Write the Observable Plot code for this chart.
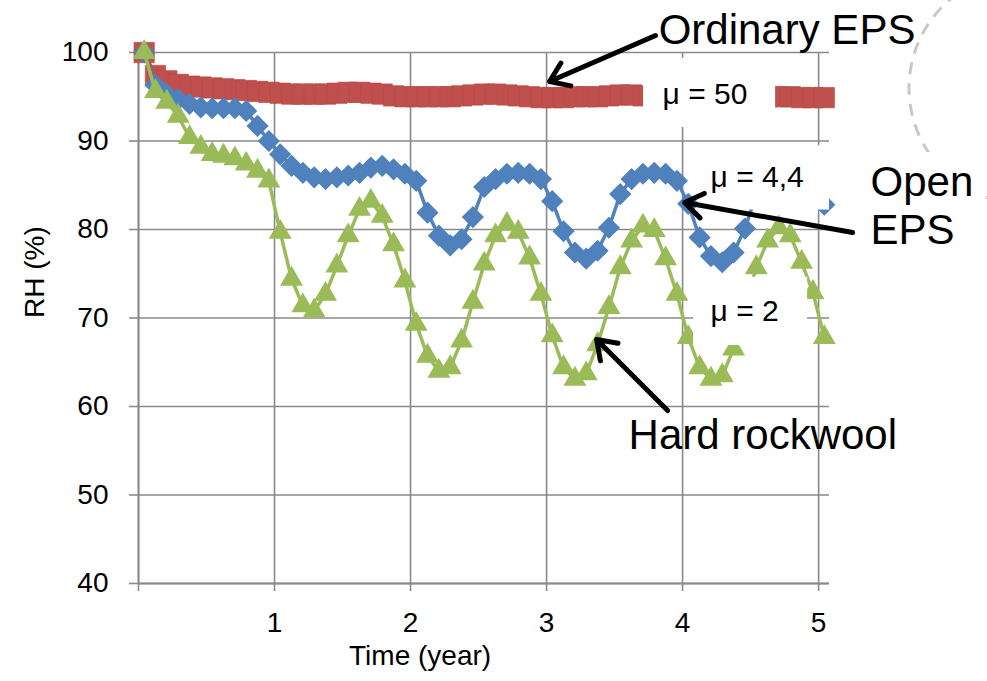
<!DOCTYPE html>
<html><head><meta charset="utf-8">
<script src="https://cdn.jsdelivr.net/npm/d3@7"></script>
<script src="https://cdn.jsdelivr.net/npm/@observablehq/plot@0.6"></script>
<style>
html,body{margin:0;padding:0;background:#fff}
#wrap{position:relative;width:987px;height:681px;overflow:hidden}
#wrap svg{position:absolute;left:0;top:0}
</style>
</head><body><div id="wrap">
<svg width="987" height="681"><circle cx="1025" cy="88" r="116" fill="none" stroke="#c8c8c8" stroke-width="3" stroke-dasharray="12 9"/></svg>
</div>
<script>
// month index (mid-month sampling, 0..60)
const monthIndex = d3.range(61);
// RH (%) series
const ordinaryEPS = [100, 97.4, 96.8, 96.4, 96.2, 96.1, 96.0, 95.9, 95.8, 95.7, 95.6, 95.5, 95.4, 95.3, 95.3, 95.3, 95.3, 95.4, 95.5, 95.5, 95.4, 95.3, 95.1, 95.0, 95.0, 95.0, 95.0, 95.0, 95.1, 95.2, 95.3, 95.3, 95.2, 95.1, 95.0, 94.9, 94.9, 94.9, 95.0, 95.0, 95.0, 95.1, 95.2, 95.2, 95.1, 95.0, 94.9, 94.9, 94.9, 94.9, 95.0, 95.0, 95.1, 95.1, 95.0, 95.0, 95.0, 95.0, 94.9, 94.9, 94.9];
const openEPS = [100, 96.3, 95.3, 94.7, 94.2, 93.8, 93.7, 93.7, 93.7, 93.4, 91.7, 90.0, 88.5, 87.2, 86.4, 85.9, 85.7, 85.9, 86.1, 86.4, 87.0, 87.2, 86.8, 86.3, 85.5, 81.9, 79.3, 78.2, 78.9, 81.4, 84.8, 85.7, 86.3, 86.4, 86.3, 85.7, 83.2, 79.8, 77.4, 76.7, 77.6, 80.2, 84.0, 85.7, 86.3, 86.4, 86.3, 85.5, 82.9, 79.1, 77.0, 76.3, 77.4, 80.1, 84.0, 85.7, 86.2, 86.3, 86.2, 85.4, 82.8];
const hardRockwool = [100, 95.6, 94.4, 92.8, 90.4, 89.3, 88.5, 88.3, 88.0, 87.4, 86.6, 85.5, 79.7, 74.4, 71.4, 70.8, 72.7, 75.9, 79.3, 82.3, 83.2, 81.5, 78.3, 74.2, 69.3, 65.7, 64.0, 64.4, 67.4, 71.8, 76.1, 79.3, 80.6, 79.7, 76.8, 72.7, 68.0, 64.4, 63.1, 63.7, 67.0, 71.2, 75.7, 78.7, 80.4, 79.9, 76.7, 72.7, 67.8, 64.4, 63.1, 63.5, 66.5, 71.3, 75.7, 78.7, 80.2, 79.3, 76.3, 72.9, 67.8];
const yTicks = [40, 50, 60, 70, 80, 90, 100];
const xTicks = [0, 1, 2, 3, 4, 5];

const toRows = (vals) => vals.map((v, i) => ({t: (monthIndex[i] + 0.5) / 12, v}));
const red = toRows(ordinaryEPS), blue = toRows(openEPS), green = toRows(hardRockwool);

// annotations (data units)
const boxes = [
  {x1: 3.713, x2: 4.684, y1: 91.53, y2: 99.32},
  {x1: 4.132, x2: 5.08, y1: 82.2, y2: 89.46},
  {x1: 4.081, x2: 4.919, y1: 66.89, y2: 74.6},
  {x1: 5.346, x2: 6.18, y1: 77.6, y2: 88.7}
];
const bigLabels = [
  {x: 3.824, y: 102.49, text: "Ordinary EPS"},
  {x: 5.382, y: 85.36, text: "Open"},
  {x: 5.382, y: 79.93, text: "EPS"},
  {x: 3.603, y: 56.77, text: "Hard rockwool"}
];
const muLabels = [
  {x: 3.853, y: 95.32, text: "μ = 50"},
  {x: 4.206, y: 85.94, text: "μ = 4,4"},
  {x: 4.206, y: 70.80, text: "μ = 2"}
];
const arrows = [
  {x1: 3.801, y1: 101.92, x2: 3.022, y2: 96.72},
  {x1: 5.25, y1: 79.66, x2: 4.015, y2: 83.05},
  {x1: 3.890, y1: 59.55, x2: 3.368, y2: 67.57}
];

const RED = "#C0504D", BLUE = "#4F81BD", GREEN = "#9BBB59", GRID = "#8a8a8a";

const chart = Plot.plot({
  width: 987, height: 681,
  marginLeft: 138, marginRight: 158, marginTop: 52, marginBottom: 98,
  x: {domain: [0, 5.08], axis: null},
  y: {domain: [40, 100], axis: null},
  style: {fontFamily: "'Liberation Sans', Arial, sans-serif", fontSize: "28px", color: "black", background: "transparent", overflow: "visible"},
  marks: [
    Plot.gridY(yTicks, {stroke: GRID, strokeOpacity: 1, strokeWidth: 1.6}),
    Plot.gridX(xTicks.filter(d => d > 0), {stroke: GRID, strokeOpacity: 1, strokeWidth: 1.6}),
    Plot.axisY(yTicks, {anchor: "left", tickSize: 9, tickPadding: 21, stroke: GRID, strokeWidth: 1.6, fill: "black", label: null, fontSize: 28}),
    Plot.axisX(xTicks, {anchor: "bottom", tickSize: 8, tickPadding: 21, stroke: GRID, strokeWidth: 1.6, fill: "black", label: null, fontSize: 28, tickFormat: d => d === 0 ? "" : String(d)}),
    Plot.ruleX([0], {stroke: GRID, strokeWidth: 2.2}),
    Plot.ruleY([40], {stroke: GRID, strokeWidth: 2.2}),
    Plot.line(red, {x: "t", y: "v", stroke: RED, strokeWidth: 3.5}),
    Plot.dot(red, {x: "t", y: "v", symbol: "square", r: 11.5, fill: RED, stroke: "#b64a47", strokeWidth: 0.6}),
    Plot.line(blue, {x: "t", y: "v", stroke: BLUE, strokeWidth: 3.5}),
    Plot.dot(blue, {x: "t", y: "v", symbol: "diamond2", r: 10, fill: BLUE, stroke: "none"}),
    Plot.line(green, {x: "t", y: "v", stroke: GREEN, strokeWidth: 3.5}),
    Plot.dot(green, {x: "t", y: "v", symbol: "triangle", r: 8.5, fill: GREEN, stroke: "none"}),
    Plot.rect(boxes, {x1: "x1", x2: "x2", y1: "y1", y2: "y2", fill: "white"}),
    Plot.text(bigLabels, {x: "x", y: "y", text: "text", textAnchor: "start", fontSize: 42, fill: "black"}),
    Plot.text(muLabels, {x: "x", y: "y", text: "text", textAnchor: "start", fontSize: 30, fill: "black"}),
    Plot.arrow(arrows, {x1: "x1", y1: "y1", x2: "x2", y2: "y2", stroke: "black", strokeWidth: 5, headLength: 6.5, headAngle: 70}),
    Plot.text(["RH (%)"], {text: d => d, frameAnchor: "left", dx: -103, rotate: -90, fontSize: 28, fill: "black"}),
    Plot.text(["Time (year)"], {x: () => 2.07, text: d => d, frameAnchor: "bottom", dy: 81, fontSize: 28, fill: "black"})
  ]
});
document.getElementById("wrap").appendChild(chart);
</script>
</body></html>
